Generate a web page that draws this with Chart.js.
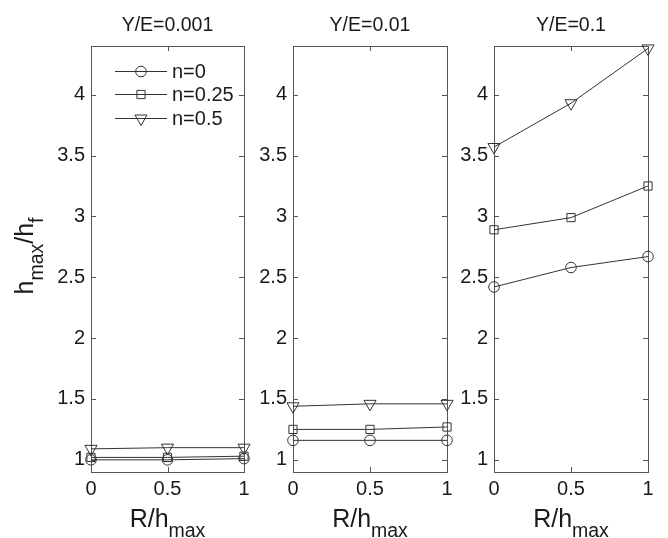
<!DOCTYPE html>
<html>
<head>
<meta charset="utf-8">
<script src="https://cdn.jsdelivr.net/npm/chart.js@4"></script>
<style>
  body { margin: 0; background: #fff; }
  #wrap { position: relative; width: 668px; height: 538px; }
  #wrap canvas { position: absolute; left: 0; top: 0; }
</style>
</head>
<body>
<div id="wrap">
  <canvas id="c1" width="668" height="538"></canvas>
  <canvas id="c2" width="668" height="538"></canvas>
  <canvas id="c3" width="668" height="538"></canvas>
</div>
<script>
// R/h_max positions
const xVals = [0, 0.5, 1];
const xTicks = [0, 0.5, 1];
const yTicks = [1, 1.5, 2, 2.5, 3, 3.5, 4];
const panelTitles = ['Y/E=0.001', 'Y/E=0.01', 'Y/E=0.1'];
const seriesNames = ['n=0', 'n=0.25', 'n=0.5'];

// h_max/h_f for each Y/E, one array per n
const ye0001 = { n0: [1.00, 1.00, 1.01], n025: [1.02, 1.02, 1.03], n05: [1.09, 1.10, 1.10] };
const ye001 = { n0: [1.16, 1.16, 1.16], n025: [1.25, 1.25, 1.27], n05: [1.44, 1.46, 1.46] };
const ye01 = { n0: [2.42, 2.58, 2.67], n025: [2.89, 2.99, 3.25], n05: [3.57, 3.93, 4.38] };

const FONT = '"Liberation Sans", Arial, sans-serif';
const TXT = '#1a1a1a';
const LINE = '#333';
const FRAME = '#555';

// marker styles per series
const markers = [
  { pointStyle: 'circle', radius: 5.3, rotation: 0 },
  { pointStyle: 'rect', radius: 5.8, rotation: 0 },
  { pointStyle: 'triangle', radius: 7, rotation: 180 }
];

// chart area edges for each panel
const panels = [
  { id: 'c1', left: 91, right: 244, data: ye0001, legend: true, yLabel: true },
  { id: 'c2', left: 293, right: 447, data: ye001 },
  { id: 'c3', left: 494, right: 648, data: ye01 }
];
const TOP = 46, BOTTOM = 472, YW = 40, XH = 30;

function toPoints(vals) {
  return vals.map((v, i) => ({ x: xVals[i], y: v }));
}

// draw text with a subscript part, starting at x
function drawParts(ctx, parts, x, y) {
  parts.forEach(p => {
    ctx.font = p.size + 'px ' + FONT;
    ctx.fillText(p.text, x, y + (p.sub ? 10 : 0));
    x += ctx.measureText(p.text).width;
  });
  return x;
}
function partsWidth(ctx, parts) {
  let w = 0;
  parts.forEach(p => {
    ctx.font = p.size + 'px ' + FONT;
    w += ctx.measureText(p.text).width;
  });
  return w;
}

// box, inward ticks, titles, axis labels, legend
const framePlugin = {
  id: 'frame',
  beforeDatasetsDraw(chart, args, opts) {
    const { ctx, chartArea: a, scales } = chart;
    ctx.save();
    ctx.strokeStyle = FRAME;
    ctx.lineWidth = 1;
    ctx.strokeRect(Math.round(a.left) + 0.5, Math.round(a.top) + 0.5,
      Math.round(a.right - a.left), Math.round(a.bottom - a.top));
    ctx.beginPath();
    xTicks.forEach(v => {
      const px = Math.round(scales.x.getPixelForValue(v)) + 0.5;
      ctx.moveTo(px, a.top); ctx.lineTo(px, a.top + 5);
      ctx.moveTo(px, a.bottom); ctx.lineTo(px, a.bottom - 5);
    });
    yTicks.forEach(v => {
      const py = Math.round(scales.y.getPixelForValue(v)) + 0.5;
      ctx.moveTo(a.left, py); ctx.lineTo(a.left + 5, py);
      ctx.moveTo(a.right, py); ctx.lineTo(a.right - 5, py);
    });
    ctx.stroke();
    ctx.restore();
  },
  afterDraw(chart, args, opts) {
    const { ctx, chartArea: a } = chart;
    const cx = (a.left + a.right) / 2;
    ctx.save();
    ctx.fillStyle = TXT;
    ctx.textBaseline = 'alphabetic';

    // panel title
    ctx.font = '19.5px ' + FONT;
    ctx.textAlign = 'center';
    ctx.fillText(opts.title, cx, 31);
    ctx.textAlign = 'left';

    // x axis label R/h_max
    const xl = [{ text: 'R/h', size: 25 }, { text: 'max', size: 19.5, sub: true }];
    drawParts(ctx, xl, cx - partsWidth(ctx, xl) / 2, 527);

    // y axis label h_max/h_f
    if (opts.yLabel) {
      const yl = [{ text: 'h', size: 25 }, { text: 'max', size: 19.5, sub: true },
        { text: '/h', size: 25 }, { text: 'f', size: 19.5, sub: true }];
      ctx.save();
      ctx.translate(33, (a.top + a.bottom) / 2 - 3);
      ctx.rotate(-Math.PI / 2);
      drawParts(ctx, yl, -partsWidth(ctx, yl) / 2, 0);
      ctx.restore();
    }

    // legend
    if (opts.legend) {
      const x0 = 115, x1 = 167, rows = [71, 94, 118];
      chart.data.datasets.forEach((ds, i) => {
        const y = rows[i] + 0.5;
        ctx.strokeStyle = LINE;
        ctx.lineWidth = 1;
        ctx.beginPath();
        ctx.moveTo(x0, y); ctx.lineTo(x1, y);
        ctx.stroke();
        ctx.fillStyle = 'rgba(0,0,0,0)';
        Chart.helpers.drawPoint(ctx, {
          pointStyle: ds.pointStyle, radius: ds.pointRadius,
          rotation: ds.pointRotation, borderWidth: 1
        }, (x0 + x1) / 2, y);
        ctx.fillStyle = TXT;
        ctx.font = '20px ' + FONT;
        ctx.textBaseline = 'middle';
        ctx.fillText(ds.label, 172, y + 1);
      });
    }
    ctx.restore();
  }
};

panels.forEach((p, k) => {
  const seriesVals = [p.data.n0, p.data.n025, p.data.n05];
  const datasets = seriesVals.map((vals, i) => ({
    label: seriesNames[i],
    data: toPoints(vals),
    borderColor: LINE,
    borderWidth: 1,
    backgroundColor: 'rgba(0,0,0,0)',
    pointStyle: markers[i].pointStyle,
    pointRadius: markers[i].radius,
    pointRotation: markers[i].rotation,
    pointBorderColor: LINE,
    pointBackgroundColor: 'rgba(0,0,0,0)',
    pointBorderWidth: 1,
    tension: 0,
    clip: false
  }));

  new Chart(document.getElementById(p.id).getContext('2d'), {
    type: 'line',
    data: { datasets: datasets },
    options: {
      responsive: false,
      animation: false,
      layout: {
        padding: { left: p.left - YW, right: 668 - p.right, top: TOP, bottom: 538 - BOTTOM - XH }
      },
      plugins: {
        legend: { display: false },
        tooltip: { enabled: false },
        frame: { title: panelTitles[k], legend: !!p.legend, yLabel: !!p.yLabel }
      },
      scales: {
        x: {
          type: 'linear',
          min: 0,
          max: 1,
          afterBuildTicks: s => { s.ticks = xTicks.map(v => ({ value: v })); },
          afterFit: s => { s.height = XH; },
          grid: { display: false, drawTicks: false },
          border: { display: false },
          ticks: {
            padding: 5,
            color: TXT,
            font: { family: FONT, size: 20 },
            maxRotation: 0,
            callback: v => String(v)
          }
        },
        y: {
          type: 'linear',
          min: 0.9,
          max: 4.4,
          afterBuildTicks: s => { s.ticks = yTicks.map(v => ({ value: v })); },
          afterFit: s => { s.width = YW; },
          grid: { display: false, drawTicks: false },
          border: { display: false },
          ticks: {
            padding: 6,
            color: TXT,
            font: { family: FONT, size: 20 },
            callback: v => String(v)
          }
        }
      }
    },
    plugins: [framePlugin]
  });
});
</script>
</body>
</html>
